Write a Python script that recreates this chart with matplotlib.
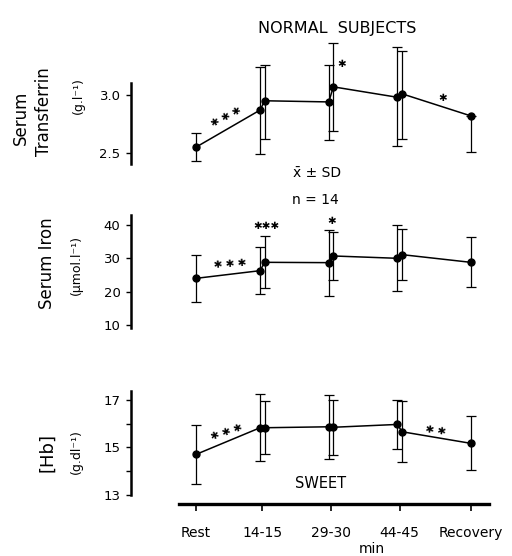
import matplotlib
matplotlib.use("Agg")
import matplotlib.pyplot as plt

# sampling times (min); tick positions on the shared time axis
minutes = [0, 14, 15, 29, 30, 44, 45, 60]
tick_pos = [0, 14.5, 29.5, 44.5, 60]
tick_labels = ["Rest", "14-15", "29-30", "44-45", "Recovery"]

transferrin = [2.55, 2.87, 2.95, 2.94, 3.07, 2.98, 3.01, 2.82]
transferrin_sd_lo = [0.12, 0.38, 0.33, 0.33, 0.38, 0.42, 0.39, 0.31]
transferrin_sd_hi = [0.12, 0.37, 0.31, 0.32, 0.38, 0.43, 0.37, 0.0]

iron = [24.0, 26.3, 28.8, 28.7, 30.7, 30.0, 31.1, 28.8]
iron_sd = [7.0, 7.0, 7.8, 9.9, 7.3, 9.9, 7.6, 7.5]

hb = [14.70, 15.83, 15.83, 15.87, 15.85, 15.97, 15.66, 15.17]
hb_sd = [1.25, 1.42, 1.12, 1.35, 1.17, 1.05, 1.30, 1.15]

fig = plt.figure(figsize=(5.12, 5.56), dpi=100)
W, H = 512.0, 556.0


def make_axes(top_px, bottom_px):
    return fig.add_axes([131 / W, 1 - bottom_px / H, 358 / W, (bottom_px - top_px) / H])


def style(ax, ylim, bounds, ticks, labels, minor=None):
    ax.set_xlim(-14.2, 64)
    ax.set_ylim(*ylim)
    for s in ["top", "right", "bottom"]:
        ax.spines[s].set_visible(False)
    ax.spines["left"].set_linewidth(1.8)
    ax.spines["left"].set_bounds(*bounds)
    ax.set_yticks(ticks)
    ax.set_yticklabels(labels, fontsize=9.5)
    if minor:
        ax.set_yticks(minor, minor=True)
        ax.tick_params(axis="y", which="minor", length=3.5, width=1)
    ax.tick_params(axis="y", length=3.5, width=1, pad=4)
    ax.set_xticks([])
    ax.patch.set_alpha(0)


def draw(ax, y, err):
    ax.errorbar(minutes, y, yerr=err, color="black", lw=1.1, marker="o", ms=5,
                elinewidth=0.9, capsize=3.5, capthick=0.9)


star = dict(ha="center", va="center", fontsize=7.5)

# Serum transferrin
ax1 = make_axes(40, 170)
style(ax1, (2.353, 3.474), (2.405, 3.103), [2.5, 3.0], ["2.5", "3.0"])
draw(ax1, transferrin, [transferrin_sd_lo, transferrin_sd_hi])
ax1.text(6.6, 2.81, "✱ ✱ ✱", rotation=27, **star)
ax1.text(31.9, 3.27, "✱", **star)
ax1.text(53.9, 2.975, "✱", **star)
fig.text(21 / W, 1 - 118 / H, "Serum", rotation=90, ha="center", va="center", fontsize=12)
fig.text(44 / W, 1 - 112 / H, "Transferrin", rotation=90, ha="center", va="center", fontsize=12)
fig.text(78 / W, 1 - 96 / H, "(g.l⁻¹)", rotation=90, ha="center", va="center", fontsize=9)

# Serum iron
ax2 = make_axes(205, 335)
style(ax2, (7.04, 45.96), (9.13, 42.96), [10, 20, 30, 40], ["10", "20", "30", "40"])
draw(ax2, iron, iron_sd)
ax2.text(7.4, 28.4, "✱ ✱ ✱", rotation=4, **star)
ax2.text(15.5, 39.6, "✱✱✱", **star)
ax2.text(29.7, 41.2, "✱", **star)
fig.text(47 / W, 1 - 263 / H, "Serum Iron", rotation=90, ha="center", va="center", fontsize=12)
fig.text(76 / W, 1 - 265 / H, "(µmol.l⁻¹)", rotation=90, ha="center", va="center", fontsize=9)

# Haemoglobin
ax3 = make_axes(385, 504)
style(ax3, (12.60, 17.64), (12.97, 17.40), [13, 15, 17], ["13", "15", "17"], minor=[14, 16])
draw(ax3, hb, hb_sd)
ax3.text(6.7, 15.64, "✱ ✱ ✱", rotation=18, **star)
ax3.text(52.4, 15.73, "✱ ✱", rotation=-8, **star)
ax3.text(27.1, 13.45, "SWEET", ha="center", va="center", fontsize=10.5)
ax3.spines["bottom"].set_visible(True)
ax3.spines["bottom"].set_linewidth(2.4)
ax3.spines["bottom"].set_bounds(-3.7, 64)
ax3.set_xticks(tick_pos)
ax3.set_xticklabels(tick_labels, fontsize=10)
ax3.tick_params(axis="x", length=5, width=1.2, pad=11)
fig.text(47 / W, 1 - 452 / H, "[Hb]", rotation=90, ha="center", va="center", fontsize=13)
fig.text(76 / W, 1 - 452 / H, "(g.dl⁻¹)", rotation=90, ha="center", va="center", fontsize=9)

fig.text(337 / W, 1 - 28 / H, "NORMAL  SUBJECTS", ha="center", va="center", fontsize=11.5)
fig.text(317 / W, 1 - 173 / H, "x̄ ± SD", ha="center", va="center", fontsize=10)
fig.text(315 / W, 1 - 200 / H, "n = 14", ha="center", va="center", fontsize=10)
fig.text(372 / W, 1 - 549 / H, "min", ha="center", va="center", fontsize=10)

fig.savefig("out.png", dpi=100)
